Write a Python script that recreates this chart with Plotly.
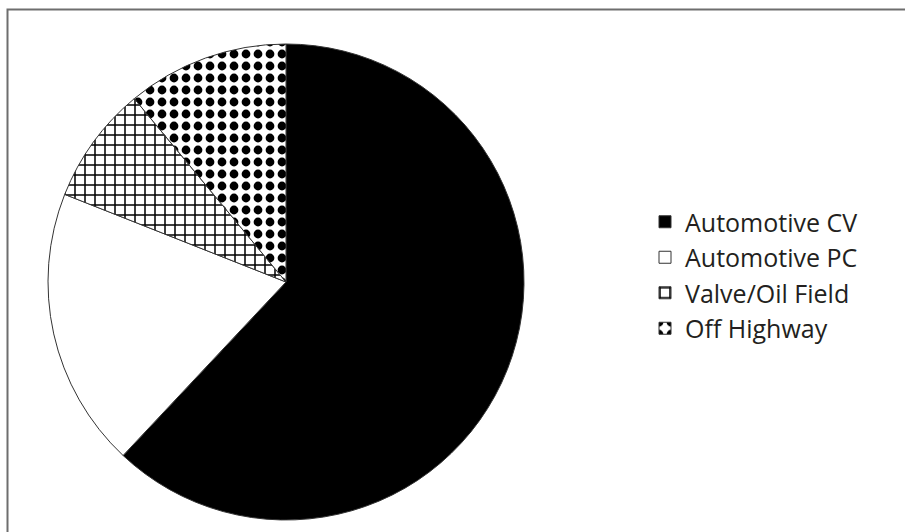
import plotly.graph_objects as go

labels = ["Automotive CV", "Automotive PC", "Valve/Oil Field", "Off Highway"]
values = [62, 19, 8, 11]
fill_colors = ["#000000", "#ffffff", "#ffffff", "#ffffff"]
pattern_shapes = ["", "", "+", "."]

W, H = 905, 532
cx, cy, r = 286, 282, 238

fig = go.Figure(go.Pie(
    labels=labels,
    values=values,
    sort=False,
    direction="clockwise",
    rotation=0,
    textinfo="none",
    hoverinfo="label+percent",
    marker=dict(
        colors=fill_colors,
        line=dict(color="#333333", width=1),
        pattern=dict(
            shape=pattern_shapes,
            fgcolor="#000000",
            bgcolor="#ffffff",
            fgopacity=1,
            fillmode="overlay",
            size=[8, 8, 10, 12],
            solidity=[0.3, 0.3, 0.28, 0.42],
        ),
    ),
    domain=dict(x=[(cx - r) / W, (cx + r) / W], y=[(H - cy - r) / H, (H - cy + r) / H]),
))

fig.update_layout(
    width=W, height=H,
    margin=dict(l=0, r=0, t=0, b=0),
    paper_bgcolor="#ffffff",
    plot_bgcolor="#ffffff",
    showlegend=True,
    legend=dict(
        x=645 / W, xanchor="left",
        y=(H - 199) / H, yanchor="top",
        font=dict(family="Open Sans", size=25, color="#231f20"),
        itemwidth=30,
        tracegroupgap=0,
        bgcolor="rgba(0,0,0,0)",
    ),
    shapes=[dict(
        type="rect", xref="paper", yref="paper",
        x0=7.5 / W, x1=1.05, y0=-0.05, y1=(H - 9.5) / H,
        line=dict(color="#6e6e6e", width=2),
        fillcolor="rgba(0,0,0,0)",
        layer="below",
    )],
)

fig.write_html("out.html")
